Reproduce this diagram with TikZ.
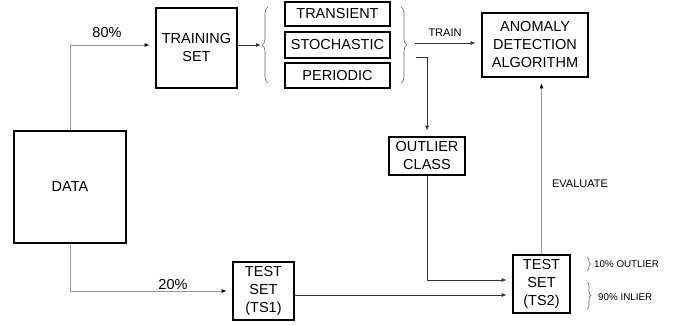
\documentclass[tikz,border=0pt]{standalone}
\usepackage{fontspec}
\setmainfont{Liberation Sans}
\usetikzlibrary{arrows.meta,decorations.pathreplacing}
\begin{document}
\begin{tikzpicture}[x=1pt,y=-1pt,
  box/.style={draw=black,line width=2.7pt,inner sep=0pt,align=center,
    font=\fontsize{14.5}{18}\selectfont},
  conn/.style={line width=0.8pt,draw=black!80,-{Latex[length=5pt,width=4pt]},shorten >=5pt},
  gconn/.style={line width=0.9pt,draw=black!40,-{Latex[length=5pt,width=4pt,fill=black,color=black]},shorten >=5pt},
  lbl/.style={font=\fontsize{14.5}{18}\selectfont,inner sep=0pt},
  slbl/.style={font=\fontsize{11}{13}\selectfont,inner sep=0pt},
  tlbl/.style={font=\fontsize{9.8}{12}\selectfont,inner sep=0pt,anchor=west},
  brc/.style={line width=0.6pt,draw=black!60,decorate}
]
\useasboundingbox (0,0) rectangle (674,324);
% nodes
\node[box,minimum width=112pt,minimum height=112pt] (data) at (70,187) {DATA};
\node[box,minimum width=81pt,minimum height=80pt] (train) at (196.5,48) {TRAINING\\SET};
\node[box,minimum width=105pt,minimum height=24pt] (trans) at (337.5,14) {TRANSIENT};
\node[box,minimum width=105pt,minimum height=26pt] (stoch) at (337.5,45) {STOCHASTIC};
\node[box,minimum width=105pt,minimum height=25pt] (period) at (337.5,75.5) {PERIODIC};
\node[box,minimum width=106pt,minimum height=64pt] (algo) at (535,45) {ANOMALY\\DETECTION\\ALGORITHM};
\node[box,minimum width=76pt,minimum height=38pt] (outlier) at (427,156) {OUTLIER\\CLASS};
\node[box,minimum width=61pt,minimum height=58pt] (ts1) at (263.5,291) {TEST\\SET\\(TS1)};
\node[box,minimum width=57pt,minimum height=58pt] (ts2) at (541.5,284) {TEST\\SET\\(TS2)};
% labels
\node[lbl] (l80) at (107,33) {80\%};
\node[lbl] (l20) at (173,285) {20\%};
\node[slbl] (ltrain) at (445,33) {TRAIN};
\node[slbl] (leval) at (580,184) {EVALUATE};
\node[tlbl] (l10) at (594,264) {10\% OUTLIER};
\node[tlbl] (l90) at (598,297) {90\% INLIER};
% braces
\coordinate (lbA) at (268,83);
\coordinate (lbB) at (268,7);
\draw[brc,decoration={brace,amplitude=6pt}] (lbA) -- (lbB);
\coordinate (rbA) at (401,7);
\coordinate (rbB) at (401,83);
\draw[brc,decoration={brace,amplitude=6pt}] (rbA) -- (rbB);
\coordinate (sbA) at (587,257);
\coordinate (sbB) at (587,271);
\draw[brc,decoration={brace,amplitude=3.5pt}] (sbA) -- (sbB);
\coordinate (sbC) at (587,282);
\coordinate (sbD) at (587,309);
\draw[brc,decoration={brace,amplitude=4pt}] (sbC) -- (sbD);
% connectors
\draw[gconn] (data.north) |- (train.west |- 0,45);
\draw[gconn] (data.south) |- (ts1.west);
\coordinate (lbt) at (265,45);
\draw[conn,shorten >=4pt] (train.east |- 0,45) -- (lbt);
\coordinate (trs) at (415,43);
\draw[conn] (trs) -- (algo.west |- trs);
\coordinate (ocs) at (416,57);
\draw[conn] (ocs) -| (outlier.north);
\draw[conn] (outlier.south) |- (ts2.west |- 0,280);
\draw[conn] (ts1.east |- 0,295) -- (ts2.west |- 0,295);
\draw[gconn] (ts2.north) -- (ts2.north |- algo.south);
\end{tikzpicture}
\end{document}
